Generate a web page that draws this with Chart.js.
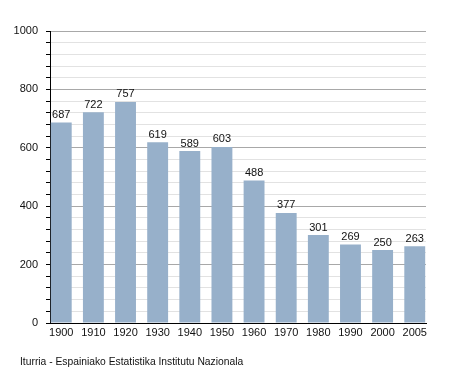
<!DOCTYPE html>
<html>
<head>
<meta charset="utf-8">
<script src="https://cdn.jsdelivr.net/npm/chart.js@4"></script>
<style>
html,body{margin:0;padding:0;background:#fff;}
canvas{display:block;}
</style>
</head>
<body>
<canvas id="c" width="455" height="373"></canvas>
<script>
const years = ["1900","1910","1920","1930","1940","1950","1960","1970","1980","1990","2000","2005"];
const population = [687, 722, 757, 619, 589, 603, 488, 377, 301, 269, 250, 263];
const yMajorTicks = [0, 200, 400, 600, 800, 1000];
const sourceText = "Iturria - Espainiako Estatistika Institutu Nazionala";

const FONT = "'Liberation Sans', Arial, sans-serif";

const valueLabels = {
  id: 'valueLabels',
  afterDatasetsDraw(chart) {
    const ctx = chart.ctx;
    const meta = chart.getDatasetMeta(0);
    ctx.save();
    ctx.font = "11px " + FONT;
    ctx.fillStyle = "#111";
    ctx.textAlign = "center";
    ctx.textBaseline = "bottom";
    meta.data.forEach((bar, i) => {
      ctx.fillText(String(population[i]), bar.x, bar.y - 2);
    });
    ctx.restore();
  }
};

const sourceNote = {
  id: 'sourceNote',
  afterDraw(chart) {
    const ctx = chart.ctx;
    ctx.save();
    ctx.font = "10.3px " + FONT;
    ctx.fillStyle = "#111";
    ctx.textAlign = "left";
    ctx.textBaseline = "middle";
    ctx.fillText(sourceText, 20, 362);
    ctx.restore();
  }
};

new Chart(document.getElementById('c'), {
  type: 'bar',
  data: {
    datasets: [{
      data: population.map((v, i) => ({x: i, y: v})),
      backgroundColor: '#97b0ca',
      borderWidth: 0,
      barPercentage: 0.65,
      categoryPercentage: 1.0
    }]
  },
  options: {
    responsive: false,
    animation: false,
    devicePixelRatio: 1,
    layout: { padding: { left: 0, top: 31, right: 29, bottom: 0 } },
    plugins: { legend: { display: false }, tooltip: { enabled: false } },
    scales: {
      x: {
        type: 'linear',
        offset: false,
        min: -0.35,
        max: 11.35,
        grid: { display: false, drawTicks: false },
        border: { display: true, color: '#000', width: 1 },
        ticks: {
          stepSize: 1,
          includeBounds: false,
          autoSkip: false,
          maxRotation: 0,
          padding: 3,
          color: '#111',
          font: { family: FONT, size: 11 },
          callback: (v) => (years[v] !== undefined ? years[v] : '')
        },
        afterFit(scale) { scale.height = 50; }
      },
      y: {
        min: 0,
        max: 1000,
        grid: {
          color: (c) => (yMajorTicks.includes(c.tick.value) ? '#a8a8a8' : '#e2e2e2'),
          tickColor: '#000',
          tickLength: 4,
          lineWidth: 1
        },
        border: { display: true, color: '#000', width: 1 },
        ticks: {
          stepSize: 40,
          autoSkip: false,
          padding: 8,
          color: '#111',
          font: { family: FONT, size: 11 },
          callback: (v) => (yMajorTicks.includes(v) ? String(v) : '')
        },
        afterFit(scale) { scale.width = 50; }
      }
    }
  },
  plugins: [valueLabels, sourceNote]
});
</script>
</body>
</html>
